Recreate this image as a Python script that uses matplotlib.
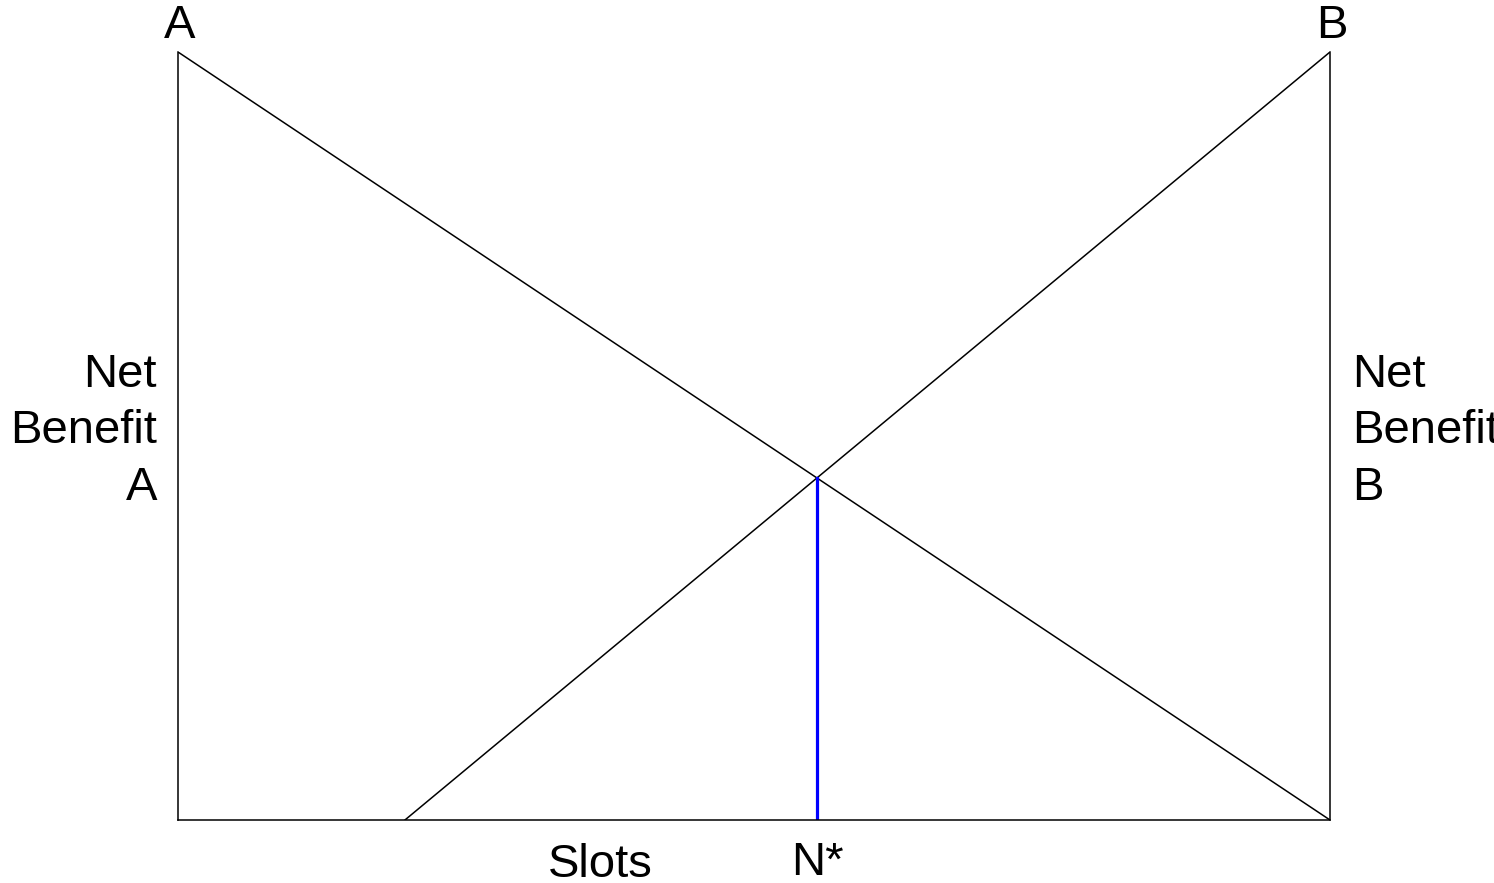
import matplotlib.pyplot as plt
from matplotlib import transforms

plt.rcParams['font.family'] = ['Liberation Sans', 'DejaVu Sans']

# dados do diagrama (slots de 0 a 100, beneficio liquido de 0 a 100)
slots_a = [0, 100]
benefit_a = [100, 0]
slots_b = [19.7, 100]
benefit_b = [0, 100]
n_star = 55.5
benefit_star = 44.5

fig = plt.figure(figsize=(14.94, 8.83), dpi=100)
ax = fig.add_axes([178 / 1494, 1 - 820 / 883, 1152 / 1494, 768 / 883])

ax.plot(slots_a, benefit_a, color='black', lw=1.1)
ax.plot(slots_b, benefit_b, color='black', lw=1.1)
ax.plot([n_star, n_star], [0, benefit_star], color='#0000ff', lw=2.3)

ax.set_xlim(0, 100)
ax.set_ylim(0, 100)
ax.set_xticks([])
ax.set_yticks([])
ax.spines['top'].set_visible(False)
for s in ['left', 'right', 'bottom']:
    ax.spines[s].set_linewidth(1.1)

fs = 34
ax.text(0.0017, 1.018, 'A', transform=ax.transAxes, ha='center', va='baseline', fontsize=fs)
ax.text(1.0017, 1.018, 'B', transform=ax.transAxes, ha='center', va='baseline', fontsize=fs)
# rotulos laterais (baseline = ultima linha)
ax.text(-0.0182, 0.4167, 'Net\nBenefit\nA', transform=ax.transAxes, ha='right', va='baseline',
        multialignment='right', fontsize=fs, linespacing=1.37)
ax.text(1.0191, 0.4167, 'Net\nBenefit\nB', transform=ax.transAxes, ha='left', va='baseline',
        multialignment='left', fontsize=fs, linespacing=1.37)
ax.text(0.367, -0.0742, 'Slots', transform=ax.transAxes, ha='center', va='baseline', fontsize=fs)
trans = transforms.blended_transform_factory(ax.transData, ax.transAxes)
ax.text(n_star, -0.0716, 'N*', transform=trans, ha='center', va='baseline', fontsize=fs)

fig.savefig('out.png', dpi=100)
